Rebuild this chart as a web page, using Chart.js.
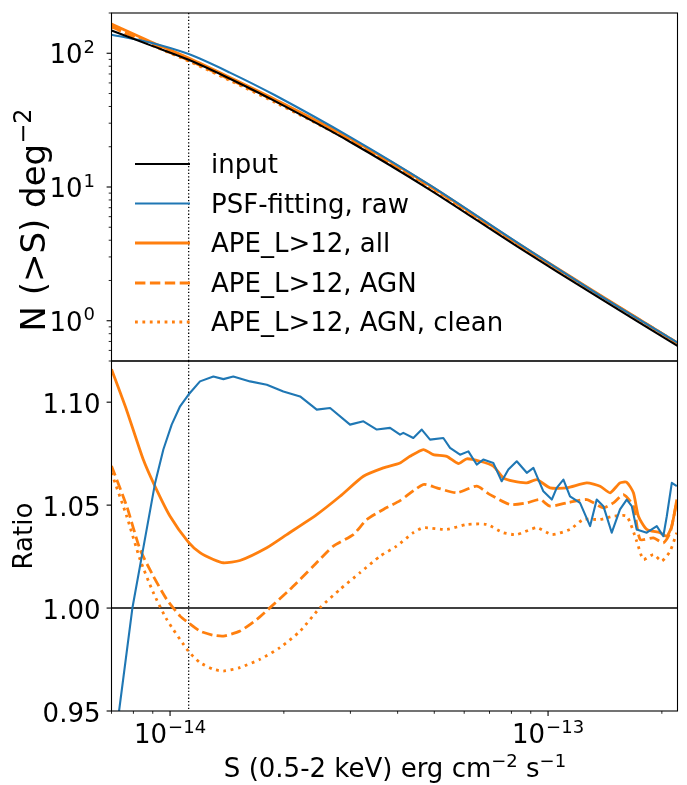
<!DOCTYPE html>
<html>
<head>
<meta charset="utf-8">
<script src="https://cdn.jsdelivr.net/npm/chart.js@4.4.1/dist/chart.umd.min.js"></script>
<style>
  html, body { margin: 0; padding: 0; background: #fff; }
  #wrap { position: relative; width: 687px; height: 785px; }
  canvas { position: absolute; left: 0; }
  #top { top: 0; }
  #bot { top: 350px; }
</style>
</head>
<body>
<div id="wrap">
  <canvas id="top" width="687" height="370"></canvas>
  <canvas id="bot" width="687" height="435"></canvas>
</div>
<script>
// x range and the vertical reference flux
const S_MIN = 7e-15, S_MAX = 2.2e-13;
const S_LIMIT = 1.12e-14;

// top panel: N(>S) deg^-2
const topFlux = [7.0e-15, 8.85e-15, 1.12e-14, 1.44e-14, 1.89e-14, 2.99e-14, 4.87e-14, 8.26e-14, 1.37e-13, 2.2e-13];
const nInput  = [148, 115, 89.3, 64.5, 44.0, 21.8, 9.53, 3.61, 1.475, 0.648];
const nPsf    = [137.6, 120.4, 98.6, 71.7, 48.7, 23.7, 10.31, 3.87, 1.549, 0.686];
const nAll    = [165.2, 122.5, 92.2, 66.0, 45.4, 23.1, 10.25, 3.83, 1.562, 0.682];
const nAgn    = [158.2, 117.2, 88.7, 63.7, 44.2, 22.5, 10.09, 3.79, 1.547, 0.682];
const nClean  = [157.8, 116.3, 87.4, 62.6, 43.1, 22.1, 9.89, 3.74, 1.539, 0.672];

// bottom panel: ratio to input
const psfFlux = [7.0e-15, 7.33e-15, 7.95e-15, 8.42e-15, 9.13e-15, 9.60e-15, 1.010e-14, 1.063e-14, 1.118e-14, 1.200e-14,
  1.302e-14, 1.384e-14, 1.470e-14, 1.628e-14, 1.803e-14, 1.994e-14, 2.208e-14, 2.444e-14, 2.651e-14, 2.993e-14,
  3.247e-14, 3.523e-14, 3.819e-14, 4.059e-14, 4.141e-14, 4.401e-14, 4.633e-14, 4.873e-14, 5.284e-14, 5.504e-14,
  5.850e-14, 6.154e-14, 6.475e-14, 6.740e-14, 7.164e-14, 7.540e-14, 7.852e-14, 8.264e-14, 8.784e-14, 9.146e-14,
  9.718e-14, 1.023e-13, 1.054e-13, 1.098e-13, 1.143e-13, 1.215e-13, 1.292e-13, 1.345e-13, 1.401e-13, 1.474e-13,
  1.550e-13, 1.615e-13, 1.665e-13, 1.716e-13, 1.824e-13, 1.939e-13, 2.018e-13, 2.061e-13, 2.125e-13, 2.191e-13];
const psfRatio = [0.924, 0.950, 1.000, 1.0252, 1.0608, 1.077, 1.0891, 1.098, 1.1036, 1.1101,
  1.1125, 1.1112, 1.1125, 1.1101, 1.1085, 1.1052, 1.1028, 1.0964, 1.0972, 1.0891,
  1.0907, 1.0867, 1.0875, 1.0842, 1.0851, 1.0826, 1.0867, 1.0818, 1.0826, 1.0778,
  1.0745, 1.0761, 1.0697, 1.0721, 1.0705, 1.0616, 1.0673, 1.0713, 1.0657, 1.0681,
  1.0567, 1.0527, 1.0584, 1.0624, 1.0543, 1.0511, 1.0398, 1.0527, 1.0495, 1.0366,
  1.0479, 1.0527, 1.0495, 1.0382, 1.0366, 1.0398, 1.0349, 1.0446, 1.0608, 1.0592];

const allFlux = [7.0e-15, 7.68e-15, 8.50e-15, 9.13e-15, 1.00e-14, 1.118e-14, 1.200e-14, 1.302e-14, 1.384e-14, 1.531e-14,
  1.803e-14, 2.036e-14, 2.444e-14, 2.817e-14, 3.247e-14, 3.667e-14, 4.059e-14, 4.313e-14, 4.678e-14, 4.972e-14,
  5.395e-14, 5.790e-14, 6.094e-14, 6.606e-14, 7.164e-14, 7.615e-14, 8.094e-14, 8.784e-14, 9.334e-14, 1.012e-13,
  1.121e-13, 1.266e-13, 1.373e-13, 1.459e-13, 1.550e-13, 1.615e-13, 1.682e-13, 1.734e-13, 1.824e-13, 1.978e-13,
  2.061e-13, 2.125e-13, 2.191e-13];
const allRatio = [1.116, 1.096, 1.072, 1.059, 1.0446, 1.032, 1.0269, 1.0236, 1.022, 1.0231,
  1.0293, 1.0357, 1.0454, 1.0543, 1.064, 1.0681, 1.0705, 1.0737, 1.077, 1.0745,
  1.0737, 1.0702, 1.0725, 1.0713, 1.0689, 1.0632, 1.0616, 1.0608, 1.0624, 1.0584,
  1.0584, 1.0608, 1.0592, 1.056, 1.0608, 1.0611, 1.056, 1.0446, 1.0382, 1.0366,
  1.0349, 1.0398, 1.0527];

const agnFlux = [7.0e-15, 7.68e-15, 8.33e-15, 9.03e-15, 9.80e-15, 1.063e-14, 1.118e-14, 1.200e-14, 1.302e-14, 1.384e-14,
  1.531e-14, 1.696e-14, 1.839e-14, 2.077e-14, 2.394e-14, 2.704e-14, 3.054e-14, 3.315e-14, 3.667e-14, 4.059e-14,
  4.678e-14, 5.076e-14, 5.734e-14, 6.475e-14, 7.022e-14, 7.934e-14, 8.784e-14, 9.524e-14, 1.012e-13, 1.121e-13,
  1.266e-13, 1.401e-13, 1.489e-13, 1.582e-13, 1.682e-13, 1.752e-13, 1.899e-13, 2.018e-13, 2.103e-13, 2.191e-13];
const agnRatio = [1.069, 1.0495, 1.0285, 1.0155, 1.0042, 0.9961, 0.9929, 0.9888, 0.9868, 0.9864,
  0.9888, 0.9945, 1.0002, 1.0091, 1.0204, 1.0301, 1.0357, 1.043, 1.0479, 1.0522,
  1.060, 1.0584, 1.056, 1.0592, 1.0551, 1.0503, 1.0511, 1.0527, 1.0495, 1.0511,
  1.0527, 1.0487, 1.0511, 1.0551, 1.0495, 1.0333, 1.0341, 1.0317, 1.0366, 1.0519];

const cleanFlux = [7.0e-15, 7.68e-15, 8.33e-15, 9.03e-15, 9.80e-15, 1.118e-14, 1.200e-14, 1.302e-14, 1.384e-14, 1.531e-14,
  1.730e-14, 1.954e-14, 2.208e-14, 2.494e-14, 2.817e-14, 3.182e-14, 3.594e-14, 3.977e-14, 4.401e-14, 4.678e-14,
  5.395e-14, 6.094e-14, 6.881e-14, 7.615e-14, 8.264e-14, 9.334e-14, 1.023e-13, 1.143e-13, 1.240e-13, 1.373e-13,
  1.489e-13, 1.615e-13, 1.716e-13, 1.787e-13, 1.899e-13, 1.999e-13, 2.103e-13, 2.191e-13];
const cleanRatio = [1.0657, 1.0446, 1.0236, 1.0075, 0.9945, 0.9791, 0.9735, 0.9703, 0.9694, 0.9711,
  0.9751, 0.9808, 0.9888, 1.0002, 1.0091, 1.0172, 1.0252, 1.0301, 1.0366, 1.039,
  1.0382, 1.0406, 1.0406, 1.0366, 1.0357, 1.039, 1.0357, 1.0382, 1.043, 1.043,
  1.0446, 1.0446, 1.0325, 1.0236, 1.026, 1.0228, 1.0277, 1.0366];

const seriesLabels = ['input', 'PSF-fitting, raw', 'APE_L>12, all', 'APE_L>12, AGN', 'APE_L>12, AGN, clean'];
const ratioTicks = [0.95, 1.00, 1.05, 1.10];
const ratioTickLabels = ['0.95', '1.00', '1.05', '1.10'];
const nMin = 0.5, nMax = 200;
const ratioMin = 0.95, ratioMax = 1.12;

// ---------------------------------------------------------------
const FONT = '"DejaVu Sans", sans-serif';
const styles = [
  { color: '#000000', width: 2.1, dash: [] },
  { color: '#1f77b4', width: 2.1, dash: [] },
  { color: '#ff7f0e', width: 2.8, dash: [] },
  { color: '#ff7f0e', width: 2.8, dash: [10.4, 4.5] },
  { color: '#ff7f0e', width: 2.8, dash: [2.8, 4.6] },
];

const pts = (xs, ys) => xs.map((x, i) => ({ x: x, y: ys[i] }));

function makeDataset(i, data, tension) {
  return {
    label: seriesLabels[i],
    data: data,
    borderColor: styles[i].color,
    borderWidth: styles[i].width,
    borderDash: styles[i].dash,
    borderJoinStyle: 'round',
    pointRadius: 0,
    fill: false,
    tension: tension,
    clip: 0,
  };
}

// log ticks: 1..9 x 10^d inside [lo, hi]
function logTicks(lo, hi) {
  const out = [];
  for (let d = -16; d <= 3; d++) {
    for (let m = 1; m <= 9; m++) {
      const v = m * Math.pow(10, d);
      if (v >= lo * 0.999 && v <= hi * 1.001) out.push({ v: v, major: m === 1, exp: d });
    }
  }
  return out;
}

function line(ctx, x1, y1, x2, y2, w) {
  ctx.lineWidth = w;
  ctx.beginPath();
  ctx.moveTo(x1, y1);
  ctx.lineTo(x2, y2);
  ctx.stroke();
}

// "10" with a superscript exponent, y = baseline of "10"
function pow10(ctx, exp, x, y, align) {
  const sup = exp < 0 ? '\u2212' + (-exp) : String(exp);
  ctx.font = '26px ' + FONT;
  const wb = ctx.measureText('10').width;
  ctx.font = '18px ' + FONT;
  const ws = ctx.measureText(sup).width;
  const w = wb + 1 + ws;
  const x0 = align === 'right' ? x - w : align === 'center' ? x - w / 2 : x;
  ctx.textAlign = 'left';
  ctx.textBaseline = 'alphabetic';
  ctx.font = '26px ' + FONT;
  ctx.fillText('10', x0, y);
  ctx.font = '18px ' + FONT;
  ctx.fillText(sup, x0 + wb + 1, y - 10.5);
}

// text pieces [str, isSup], centred on x; size = main font px
function richText(ctx, pieces, x, y, size) {
  const sz = size || 26, ssz = Math.round(sz * 0.7), rise = sz * 0.4;
  let w = 0;
  pieces.forEach(p => {
    ctx.font = (p[1] ? ssz : sz) + 'px ' + FONT;
    w += ctx.measureText(p[0]).width;
  });
  let cx = x - w / 2;
  ctx.textAlign = 'left';
  ctx.textBaseline = 'alphabetic';
  pieces.forEach(p => {
    ctx.font = (p[1] ? ssz : sz) + 'px ' + FONT;
    ctx.fillText(p[0], cx, p[1] ? y - rise : y);
    cx += ctx.measureText(p[0]).width;
  });
}

function frame(ctx, a) {
  ctx.strokeStyle = '#000';
  ctx.lineWidth = 1.1;
  ctx.strokeRect(a.left, a.top, a.right - a.left, a.bottom - a.top);
}

function limitLine(chart) {
  const ctx = chart.ctx, a = chart.chartArea;
  const px = chart.scales.x.getPixelForValue(S_LIMIT);
  ctx.save();
  ctx.strokeStyle = '#000';
  ctx.setLineDash([1.3, 2.1]);
  line(ctx, px, a.top, px, a.bottom, 1.3);
  ctx.restore();
}

const topDeco = {
  id: 'topDeco',
  beforeDatasetsDraw(chart) { limitLine(chart); },
  afterDraw(chart) {
    const ctx = chart.ctx, a = chart.chartArea, ys = chart.scales.y;
    ctx.save();
    frame(ctx, a);
    ctx.fillStyle = '#000';
    logTicks(nMin, nMax).forEach(t => {
      const py = ys.getPixelForValue(t.v);
      line(ctx, a.left - (t.major ? 4.9 : 2.8), py, a.left, py, t.major ? 1.1 : 0.85);
      if (t.major) pow10(ctx, t.exp, 95, py + 10, 'right');
    });
    // y title
    ctx.save();
    ctx.translate(45, 220);
    ctx.rotate(-Math.PI / 2);
    richText(ctx, [['N (>S) deg', false], ['\u22122', true]], 0, 0, 34);
    ctx.restore();
    // legend
    const rows = [164, 203.5, 243, 283, 322];
    seriesLabels.forEach((lab, i) => {
      ctx.save();
      ctx.strokeStyle = styles[i].color;
      ctx.setLineDash(styles[i].dash);
      line(ctx, 135, rows[i], 190, rows[i], styles[i].width);
      ctx.restore();
      ctx.font = '26px ' + FONT;
      ctx.textAlign = 'left';
      ctx.textBaseline = 'alphabetic';
      ctx.fillText(lab, 211, rows[i] + 9.3);
    });
    ctx.restore();
  }
};

const botDeco = {
  id: 'botDeco',
  beforeDatasetsDraw(chart) {
    limitLine(chart);
    const ctx = chart.ctx, a = chart.chartArea;
    const py = chart.scales.y.getPixelForValue(1.0);
    ctx.save();
    ctx.strokeStyle = '#000';
    line(ctx, a.left, py, a.right, py, 1.4);
    ctx.restore();
  },
  afterDraw(chart) {
    const ctx = chart.ctx, a = chart.chartArea, xs = chart.scales.x, ys = chart.scales.y;
    ctx.save();
    frame(ctx, a);
    ctx.fillStyle = '#000';
    logTicks(S_MIN, S_MAX).forEach(t => {
      const px = xs.getPixelForValue(t.v);
      line(ctx, px, a.bottom, px, a.bottom + (t.major ? 4.9 : 2.8), t.major ? 1.1 : 0.85);
      if (t.major) pow10(ctx, t.exp, px, a.bottom + 32, 'center');
    });
    ratioTicks.forEach((v, i) => {
      const py = ys.getPixelForValue(v);
      line(ctx, a.left - 4.9, py, a.left, py, 1.1);
      ctx.font = '26px ' + FONT;
      ctx.textAlign = 'right';
      ctx.textBaseline = 'alphabetic';
      ctx.fillText(ratioTickLabels[i], 100.5, py + 10.5);
    });
    richText(ctx, [['S (0.5-2 keV) erg cm', false], ['\u22122', true], [' s', false], ['\u22121', true]], 395, a.bottom + 66);
    ctx.save();
    ctx.translate(32, (a.top + a.bottom) / 2);
    ctx.rotate(-Math.PI / 2);
    richText(ctx, [['Ratio', false]], 0, 0);
    ctx.restore();
    ctx.restore();
  }
};

const hiddenY = (min, max, type) => ({
  type: type, min: min, max: max,
  ticks: { display: false }, grid: { display: false }, border: { display: false },
  afterFit: s => { s.width = 111.5; }
});

new Chart(document.getElementById('top'), {
  type: 'line',
  data: {
    datasets: [
      makeDataset(0, pts(topFlux, nInput), 0.3),
      makeDataset(1, pts(topFlux, nPsf), 0.3),
      makeDataset(2, pts(topFlux, nAll), 0.3),
      makeDataset(3, pts(topFlux, nAgn), 0.3),
      makeDataset(4, pts(topFlux, nClean), 0.3),
    ]
  },
  options: {
    responsive: false,
    animation: false,
    layout: { padding: { top: 13, right: 9.5, bottom: 9, left: 0 } },
    plugins: { legend: { display: false }, tooltip: { enabled: false } },
    scales: {
      x: { type: 'logarithmic', min: S_MIN, max: S_MAX, display: false },
      y: hiddenY(nMin, nMax, 'logarithmic')
    }
  },
  plugins: [topDeco]
});

new Chart(document.getElementById('bot'), {
  type: 'line',
  data: {
    datasets: [
      makeDataset(1, pts(psfFlux, psfRatio), 0),
      makeDataset(2, pts(allFlux, allRatio), 0.2),
      makeDataset(3, pts(agnFlux, agnRatio), 0.2),
      makeDataset(4, pts(cleanFlux, cleanRatio), 0.2),
    ]
  },
  options: {
    responsive: false,
    animation: false,
    layout: { padding: { top: 11, right: 9.5, bottom: 0, left: 0 } },
    plugins: { legend: { display: false }, tooltip: { enabled: false } },
    scales: {
      x: {
        type: 'logarithmic', min: S_MIN, max: S_MAX,
        ticks: { display: false }, grid: { display: false }, border: { display: false },
        afterFit: s => { s.height = 74; }
      },
      y: hiddenY(ratioMin, ratioMax, 'linear')
    }
  },
  plugins: [botDeco]
});
</script>
</body>
</html>
